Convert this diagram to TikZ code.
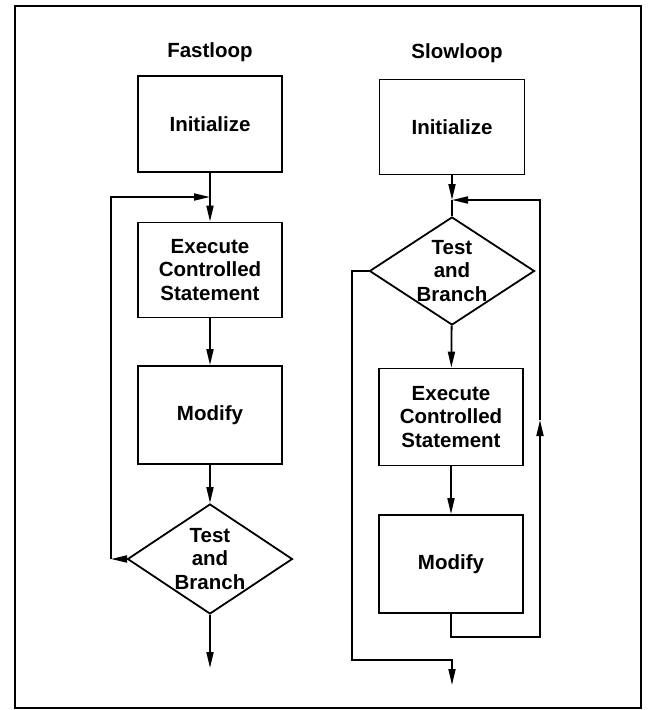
\documentclass[tikz,border=0pt]{standalone}
\usepackage{fontspec}
\setmainfont{Liberation Sans}
\usepackage{tikz}
\usetikzlibrary{shapes.geometric,arrows.meta}

\begin{document}
\begin{tikzpicture}[x=1pt, y=-1pt,
    line width=1.8pt,
    font=\fontsize{20.5}{23.5}\selectfont\bfseries,
    >={Triangle[length=16pt,width=7pt]}, % Pfeilspitzen
    kasten/.style={draw, rectangle, align=center, inner sep=0pt,
        minimum width=144pt, minimum height=96pt},
    raute/.style={draw, diamond, align=center, inner sep=-4pt,
        shape aspect=1.5, minimum width=165pt, minimum height=110pt}
    ]
        \useasboundingbox (0,0) rectangle (649,710);
        \draw [line width=2pt] (15,6) rectangle (641,708);

        % Fastloop
        \node (FK) at (210,52) {Fastloop};
        \node [kasten] (FI) at (210,124) {Initialize};
        \node [kasten, minimum height=95pt] (FA) at (210,270)
            {Execute\\Controlled\\Statement};
        \node [kasten, minimum height=98pt] (FM) at (210,415) {Modify};
        \node [raute] (FT) at (210,559) {Test\\and\\Branch};

        \coordinate (Fm) at (210,197);
        \coordinate (Fl) at (111,559);
        \coordinate (Fe) at (210,668);

        \draw [->] (FI) -- (FA);
        \draw [->] (FA) -- (FM);
        \draw [->] (FM) -- (FT);
        \draw [->] (FT) -- (Fe);
        \draw [->] (FT.west) -- (Fl);
        \draw [->] (Fl) |- (Fm);

        % Slowloop
        \node (SK) at (457,53) {Slowloop};
        \node [kasten, minimum width=145pt, minimum height=95pt] (SI) at (452,127) {Initialize};
        \node [raute, minimum height=108pt] (ST) at (452,271) {Test\\and\\Branch};
        \node [kasten, minimum height=97pt] (SA) at (451,417) 
            {Execute\\Controlled\\Statement};
        \node [kasten, minimum height=98pt] (SM) at (451,564) {Modify};

        \coordinate (Sm) at (452,200);
        \coordinate (Sr) at (540,637);
        \coordinate (Sp) at (540,420);
        \coordinate (Sl) at (352,660);
        \coordinate (Se) at (452,685);

        \draw [->] (SI) -- (Sm);
        \draw (Sm) -- (ST);
        \draw [->] (ST) -- (SA);
        \draw [->] (SA) -- (SM);
        \draw [->] (SM.south) |- (Sr) -- (Sp);
        \draw [->] (Sp) |- (Sm);
        \draw [->] (ST.west) -| (Sl) -| (Se);
\end{tikzpicture}
\end{document}
